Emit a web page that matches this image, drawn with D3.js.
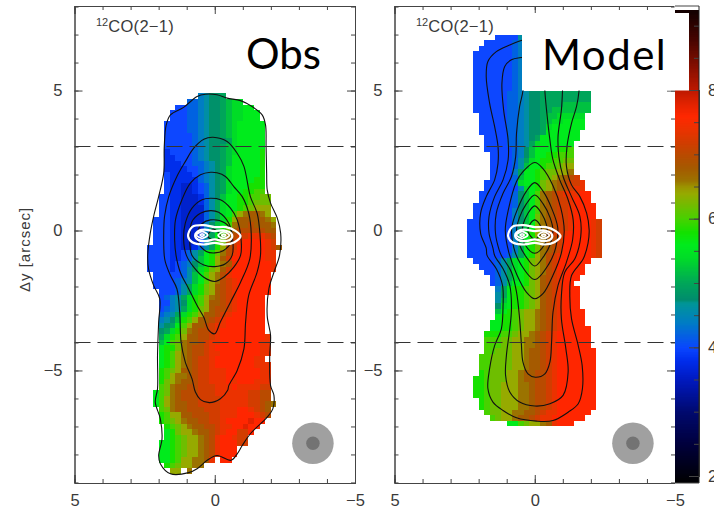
<!DOCTYPE html>
<html>
<head>
<meta charset="utf-8">
<script src="https://cdn.jsdelivr.net/npm/d3@7"></script>
<style>
  html, body { margin: 0; padding: 0; background: #fff; }
  svg { display: block; }
  .axis path, .axis line { stroke: #444; stroke-width: 1; }
  .axis text { font-family: "Liberation Sans", sans-serif; font-size: 16.5px; fill: #3a3a3a; }
</style>
</head>
<body>
<script>
// velocity level of each letter in the rows below: a = 3.6, b = 3.8 ... w = 8.0 km/s
const levelLetters = "abcdefghijklmnopqrstuvw";
const levelStart = 3.6, levelStep = 0.2;

// velocity map, observed. One string per row, from dy = 4.9 down, '.' = no data
const obsRows = [
  ".........efggh",
  ".......ddefgghijj",
  ".....ccddefgghijjkk",
  "....cccddefgghijjkkk",
  "....cccddefgghijjkkk",
  "...ccccddefgghijkkkkk",
  "...ccccddefgghijkkkkk",
  "...cccccdefgghijkkkkk",
  "...cccccdefggghjkkkkk",
  "...cccccdefgghijkkkkk",
  "...bccccdefgghijkkkkl",
  "...bbcccdefgghikkkkkl",
  "...bbbccddefghikkkkkl",
  "...bbbbccdefghjkkkkkl",
  "...cbbbbcdefghjkkkkkl",
  "...cbbbbbdefghjkkkkll",
  "...cbbaabcdfghjkkklll",
  "...cbbaabcdfghjkkllmm",
  "..ccbbaaabdfgikkllmmnn",
  "..ccbbaaabdfhjkkllmnnn",
  "..ccbbaaaadfhjkklmnooo",
  "..ccbbaaaadfhjkmopqqpo",
  ".cccbbaaaadfhjloqqqqqpo",
  ".cccbbaaaaegikmpqqrqqqp",
  ".cccbbaaaaegilnqrrrrrqq",
  ".cccbbaaabfhkmprsstttsr",
  ".cccbbaaacfhlnqstuuuuts",
  "ccccbbaabdfhlorsuuuuutsq",
  "ccccbbcdfhklnprtuuuuutt",
  "ccccbbcdfikloqsuuuuuutt",
  "ccccbcdegiklopqtuuuuuut",
  "ccccbcdfhjlnoqsuuuuuuut",
  ".cccccdfikmoprtuuuuuuu",
  ".ccccdefikmoprstuuuuuu",
  ".ccccdfhjlnoqrstuuuuuu",
  "..cccdfhjlnoqrstuuuuuu",
  "..cdefhjlmopqrstuuuuu",
  "..ccefgjlmoqqrstuuuuu",
  "..cdefhjlnoqrrstuuuuu",
  "..defhjlmoqqrstuuuuuu",
  "..efgilmoqqrstuuuuuuu",
  "..fghkmoqqrsttuuuuuuu",
  "..ghjlnpqrrstuuuuuuuu",
  "..hjlmoqqrrstuuuuuuuut",
  "..ikmnpqqrsttuuuuuuutt",
  "..kllnpqrrstuuuuuuuutt",
  "..klmopqrrsttuuuuuuutt",
  "..klmopqrsstuuuuuuutt",
  "..klmopqrsstuuuuuuuttt",
  "..lmnoqqrsstttuuuuuutt",
  "..lmoppqrsstttuuuuuutt",
  "..lnopqqrsstttutuuuttt",
  "..mnpqqrrssstttuttttss",
  ".kmnpqrrrsssttttttssrr",
  ".kmopqrrrsssstttttssrr",
  ".kmopqqrrsssstttttssrqp",
  "..mnpqqrrrssstttuutsrq",
  "..lmooqqrrrsstttuuutsr",
  "..lmnopqqrrsstuuuuvuu",
  "...lmnopqqrrsttuuvuu",
  "...klnoopqqrstuussu",
  "...klmnoopqrtuutss",
  "..kklmnoopqrtuuuss",
  "..kklmnoopqrtuuu",
  "..kklmnoopqrtuuu",
  "..kklmooppqt.uu",
  "...lmnoopp",
  "....oo.p"
];

// velocity map, model. One string per row, from dy = 7.0 down
const modelRows = [
  ".....ccccf",
  "...cccccde",
  "..ccccccde",
  ".cccccccde",
  ".cccccccde",
  ".cccccccde",
  ".cccccccde",
  ".cccccccde",
  ".cccccccde",
  ".cccccccde",
  ".ccccccddefgghhhhhhhhh",
  ".ccccccddefgghhhhhhhhh",
  ".ccccccddefgghhhhiiiii",
  ".ccccccddefgghhiiiiiii",
  "..cccccddefgghiijjjjj",
  "..cccccddefgghijjkkkk",
  "..cccccddefgghjkkkkkk",
  "..cccccddefgghkkkkkk",
  "...ccccddefghkkkkkkk",
  "...ccccddefhjkkkkkk",
  "...cccccdegikkkkllm",
  "....ccccdegikkllmmm",
  "....ccccdfhjkllmmnn",
  "....ccccdfikklmmnoo",
  "....ccccehkklmnnoop",
  "....ccccdikklmnopqrs",
  "...cccccdjkklnopqrsst",
  "...ccccccfjklnopqrstt",
  "..ccccccdgikmpqrstttuu",
  "..ccccccdgikmpqrsstuuu",
  ".cccccccdgikmpqrsstuuuu",
  ".cccccccegikmpqrsstuuuu",
  ".cccccccegiknpqrsstuuuu",
  "ccccccccegiknpqrsstuuuts",
  "ccccccccegikopqrsstuuuts",
  "ccccccccehkloprsstuuuuts",
  "ccccccccehklnpqrsuuuuuts",
  "ccccccccehklnpqrsuuuuuts",
  "ccccccccehklnpqrsuuuuuts",
  "cccccccdfhkloprstuuuuuts",
  ".ccccdfhjklnoprsuuuuuu",
  "..cccdfhjklnoprsuuuuu",
  "...ccdfhjklnoprstuuuu",
  "....cdfhjklnoqrstuuu",
  "....cdfikklnoqrstuu",
  ".....ehkllmnoqrstuuu",
  ".....fhkllmnoqrstuuu",
  ".....fikllmnoqrstuuu",
  ".....gjkllmnoqrstuuu",
  ".....iklmnoopqrstuuuu",
  ".....kllmnoopqrstuuuu",
  "....kkllmnoopqrstuuuu",
  "....kkllmnoopqrstuuuuu",
  "...lllmmnoopqrstuuuuuu",
  "...mmmnnooppqrstuuuuuu",
  "...mmmnnooppqrstuuuuuu",
  "...mmnnnoopqqrstuuuuuuu",
  "..mmnnnnoopqqrstuuuuuuu",
  "..mmnnnnoopqqrstuuuuuuu",
  "..mmnnnnoopqqrstuuuuuuu",
  "..lmnnnoopqqrrstuuuuuuu",
  ".llmnnnoopqqrrstuuuuuuu",
  ".llmnnoooppqrrstuuuuuuu",
  ".llmnnoooppqrrstuuuuuuu",
  ".llmnnoooppqrrstuuuuuuu",
  "..lmnnoooppqrrstuuuuuuu",
  "..lmnnoooppqrrstuuuuuuu",
  "...mnnooppqqrsttuuuuuu",
  "....mnoopqqrsttuuuuuu",
  ".......kkmnoopqtuuu"
];

// colour bar stops: velocity, colour
const colorVel = [1.9, 2.5, 3, 3.5, 3.8, 4, 4.4, 4.7, 4.75, 5, 5.4, 5.6, 5.8, 6, 6.2, 6.4, 6.5, 6.6, 6.8, 7, 7.2, 7.4, 7.6, 7.8, 8, 8.4, 8.8, 9.24];
const colorHex = ["#000000", "#00003c", "#000a6e", "#0019be", "#002deb", "#0a46ff", "#007dc3", "#009696", "#008c6e", "#00a55a", "#00dc28", "#00eb1e", "#14e100", "#46d200", "#6ebe00", "#96aa00", "#9b9600", "#9b7300", "#a55a00", "#b94b00", "#d23c00", "#eb3200", "#ff2800", "#e12300", "#be1900", "#820f00", "#460500", "#140000"];

// integrated intensity contours [dx, dy] in arcsec
const obsContours = [
  [[.63,4.79],[.33,4.87],[-.08,4.85],[-.44,4.73],[-.92,4.64],[-1.33,4.43],[-1.69,4.13],[-1.81,3.77],[-1.83,3],[-1.85,2.05],[-1.87,1.45],[-1.99,.98],[-2.23,.44],[-2.35,-.1],[-2.31,-.89],[-2.11,-1.49],[-1.93,-2.08],[-1.87,-3.04],[-1.99,-3.75],[-1.96,-4.46],[-1.99,-5.54],[-2.11,-5.89],[-2.07,-6.37],[-1.87,-6.67],[-1.27,-7.26],[-.98,-7.68],[-.8,-7.98],[-.58,-8.21],[-.08,-8.04],[.27,-8.21],[.63,-8.51],[.93,-8.65],[1.58,-8.69],[1.94,-8.33],[2,-8.04],[1.88,-7.44],[1.94,-6.73],[2.12,-6.13],[2.04,-5.65],[2.04,-4.46],[2,-3.27],[1.96,-2.44],[2.18,-1.96],[2.36,-1.37],[2.39,-.89],[2.3,-.1],[2.18,.5],[2,1.21],[1.82,2.05],[1.8,3],[1.73,3.77],[1.58,4.13],[1.11,4.4]],
  [[.06,3.33],[.39,3.26],[.75,2.94],[1.05,2.46],[1.35,1.93],[1.64,1.21],[1.79,.5],[1.82,-.21],[1.8,-.9],[1.76,-1.13],[1.58,-1.61],[1.35,-2.08],[1.25,-2.92],[1.2,-3.99],[1.05,-4.7],[.81,-5.3],[.69,-5.77],[.51,-6.04],[.19,-6.15],[-.2,-6.01],[-.46,-5.71],[-.5,-5.54],[-.8,-5],[-1.04,-4.23],[-1.1,-3.27],[-1.21,-2.32],[-1.51,-1.49],[-1.63,-.89],[-1.61,-.1],[-1.51,.62],[-1.27,1.21],[-1.04,2.29],[-.8,2.76],[-.44,3.18]],
  [[.15,2.08],[.51,1.99],[.87,1.69],[1.17,1.1],[1.4,.38],[1.43,-.33],[1.38,-.89],[1.23,-1.49],[.93,-2.08],[.63,-2.68],[.39,-3.1],[.21,-3.57],[0,-3.69],[-.2,-3.27],[-.56,-2.56],[-.92,-1.85],[-1.25,-1.01],[-1.3,-.1],[-1.21,.62],[-.98,1.21],[-.68,1.57],[-.38,1.93],[-.08,2.06]],
  [[.15,1.15],[.45,1.1],[.81,.8],[1.05,.26],[1.11,-.33],[1.01,-.89],[.75,-1.31],[.39,-1.67],[0,-1.82],[-.32,-1.67],[-.68,-1.31],[-.92,-.89],[-.94,-.33],[-.8,.38],[-.56,.8],[-.2,1.1]],
  [[.15,.71],[.51,.62],[.81,.32],[.89,-.21],[.81,-.89],[.39,-1.23],[0,-1.29],[-.38,-1.19],[-.62,-.89],[-.64,-.33],[-.5,.26],[-.14,.65]],
  [[.15,.38],[.45,.25],[.62,-.1],[.58,-.45],[.3,-.75],[0,-.8],[-.3,-.72],[-.58,-.42],[-.6,-.05],[-.35,.28]],
  [[.05,.05],[.25,-.2],[0,-.36],[-.2,-.2]]
];
const modelClosedContours = [
  [[0,2.43],[.42,2.1],[.65,1.75],[.95,.7],[1.05,0],[.92,-.8],[.63,-1.6],[.3,-2.2],[0,-2.44],[-.3,-2.25],[-.65,-1.6],[-.95,-.8],[-1.05,0],[-.93,.8],[-.65,1.6],[-.3,2.2]],
  [[0,1.71],[.3,1.4],[.6,.8],[.82,.1],[.75,-.6],[.5,-1.2],[0,-1.75],[-.5,-1.2],[-.75,-.6],[-.82,.1],[-.6,.8],[-.3,1.4]],
  [[0,1.27],[.3,.95],[.55,.45],[.65,0],[.55,-.5],[.3,-.95],[0,-1.27],[-.3,-.95],[-.55,-.5],[-.65,0],[-.55,.45],[-.3,.95]],
  [[0,.88],[.25,.6],[.42,.2],[.45,-.1],[.35,-.5],[0,-.81],[-.35,-.5],[-.45,-.1],[-.42,.2],[-.25,.6]],
  [[0,.38],[.25,.05],[.15,-.2],[0,-.32],[-.15,-.2],[-.25,.05]]
];
const modelOpenContours = [
  [[.2,6.85],[.48,6.79],[.89,6.63],[1.37,6.39],[1.67,6.04],[1.73,5.5],[1.61,4.55],[1.43,3.71],[1.31,3],[1.31,2.4],[1.43,1.81],[1.73,1.21],[1.93,.62],[1.93,-.1],[1.73,-.63],[1.7,-.89],[1.37,-1.37],[1.15,-1.96],[1.13,-2.68],[1.19,-3.51],[1.43,-4.11],[1.61,-4.94],[1.67,-5.65],[1.49,-6.13],[1.13,-6.43],[.65,-6.69],[-.06,-6.81],[-.65,-6.79],[-1.19,-6.49],[-1.55,-6.19],[-1.7,-5.65],[-1.69,-4.82],[-1.55,-4.11],[-1.31,-3.15],[-1.25,-2.32],[-1.31,-1.61],[-1.73,-1.01],[-1.9,-.45],[-1.94,.02],[-1.85,.62],[-1.61,1.21],[-1.31,1.63],[-1.13,2.29],[-1.15,3],[-1.31,3.83],[-1.49,4.43],[-1.58,5],[-1.6,5.6]],
  [[.2,6.2],[.48,6.18],[.83,6.1],[1.07,5.86],[1.17,5.26],[1.11,4.31],[.95,3.24],[.95,2.52],[1.13,1.81],[1.43,1.21],[1.63,.5],[1.63,-.1],[1.49,-.63],[1.43,-.89],[1.13,-1.37],[.89,-1.96],[.83,-2.8],[.89,-3.51],[1.01,-4.46],[1.04,-5.18],[.89,-5.77],[.54,-6.13],[0,-6.27],[-.54,-6.19],[-1.01,-5.89],[-1.19,-5.06],[-1.11,-4.23],[-.95,-3.15],[-.95,-2.32],[-1.07,-1.49],[-1.43,-1.01],[-1.64,-.21],[-1.61,.5],[-1.31,1.21],[-1.01,1.93],[-.86,2.64],[-.83,3.36],[-.95,4.31],[-.99,5],[-1,5.6]],
  [[.42,5.6],[.42,5],[.54,4.43],[.65,3.48],[.68,2.64],[.83,1.93],[1.13,1.33],[1.37,.62],[1.4,-.1],[1.27,-.69],[1.19,-.89],[.83,-1.49],[.65,-2.2],[.54,-3.15],[.48,-3.99],[.42,-4.7],[.24,-5.12],[-.02,-5.24],[-.36,-5.12],[-.54,-4.7],[-.6,-3.99],[-.65,-2.92],[-.83,-1.96],[-1.13,-1.13],[-1.35,-.33],[-1.37,.38],[-1.19,1.1],[-.89,1.81],[-.65,2.52],[-.54,3.24],[-.42,4.31],[-.36,5],[-.35,5.6]]
];
// white contours around the centre, same in both panels
const whiteContours = [
  [[.95,-.2],[.8,.13],[.4,.19],[0,.12],[-.4,.12],[-.75,-.02],[-.92,-.2],[-.7,-.42],[-.35,-.5],[0,-.44],[.4,-.5],[.8,-.42]],
  [[.7,-.17],[.55,0],[.35,.03],[0,-.02],[-.35,0],[-.6,-.12],[-.6,-.28],[-.35,-.38],[0,-.32],[.35,-.38],[.6,-.33]],
  [[.65,-.16],[.45,-.04],[.25,-.16],[.45,-.28]],
  [[-.12,-.17],[-.32,-.05],[-.52,-.17],[-.32,-.29]],
  [[.52,-.16],[.45,-.12],[.38,-.16],[.45,-.2]],
  [[-.25,-.17],[-.32,-.13],[-.39,-.17],[-.32,-.21]]
];

const dashedRows = [3, -4];          // dy of the dashed lines
const beamCentre = [-3.5, -7.6];     // beam position
const beamOuter = 0.74, beamInner = 0.24;
const xMajor = [5, 0, -5], yMajor = [5, 0, -5];
const xMinor = d3.range(-5, 6), yMinor = d3.range(-9, 9);
const barMajor = [2, 4, 6, 8], barMinor = d3.range(2, 9.5, 0.5);

const width = 714, height = 512;
const svg = d3.select("body").append("svg").attr("width", width).attr("height", height);

// slight softening of the map, the source figure is a scaled bitmap
svg.append("defs").append("filter").attr("id", "soft")
  .attr("x", "-5%").attr("y", "-5%").attr("width", "110%").attr("height", "110%")
  .append("feGaussianBlur").attr("stdDeviation", 0.6);

const top_ = 6, bottom = 483;
const y = d3.scaleLinear().domain([8.02, -9.02]).range([top_, bottom]);
const color = d3.scaleLinear().domain(colorVel).range(colorHex);

const curveClosed = d3.line().curve(d3.curveCatmullRomClosed.alpha(0.5));
const curveOpen = d3.line().curve(d3.curveCatmullRom.alpha(0.5));

function velocity(letter) {
  return levelStart + levelStep * levelLetters.indexOf(letter);
}

function drawPanel(left, right, rows, rowTop, closed, open) {
  const x = d3.scaleLinear().domain([5, -5]).range([left, right]);
  const g = svg.append("g");

  // velocity cells
  const cells = [];
  rows.forEach((row, r) => {
    row.split("").forEach((ch, c) => {
      if (ch !== ".") cells.push({ dx: 2.4 - 0.2 * c, dy: rowTop - 0.2 * r, v: velocity(ch) });
    });
  });
  g.append("g").attr("filter", "url(#soft)").selectAll("rect")
    .data(cells)
    .enter().append("rect")
    .attr("x", d => x(d.dx))
    .attr("y", d => y(d.dy))
    .attr("width", d => x(d.dx - 0.2) - x(d.dx))
    .attr("height", d => y(d.dy - 0.2) - y(d.dy))
    .attr("fill", d => color(d.v))
    .attr("shape-rendering", "crispEdges");

  const toPix = pts => pts.map(p => [x(p[0]), y(p[1])]);

  g.selectAll(".closed").data(closed).enter().append("path")
    .attr("class", "closed")
    .attr("d", d => curveClosed(toPix(d)))
    .attr("fill", "none").attr("stroke", "#111").attr("stroke-width", 1.1);
  g.selectAll(".open").data(open).enter().append("path")
    .attr("class", "open")
    .attr("d", d => curveOpen(toPix(d)))
    .attr("fill", "none").attr("stroke", "#111").attr("stroke-width", 1.1);
  g.selectAll(".white").data(whiteContours).enter().append("path")
    .attr("class", "white")
    .attr("d", d => curveClosed(toPix(d)))
    .attr("fill", "none").attr("stroke", "#fff").attr("stroke-width", (d, i) => i < 2 ? 2.2 : 1.8);

  // dashed lines
  g.selectAll(".dash").data(dashedRows).enter().append("line")
    .attr("x1", left).attr("x2", right)
    .attr("y1", d => y(d)).attr("y2", d => y(d))
    .attr("stroke", "#333").attr("stroke-width", 1.1)
    .attr("stroke-dasharray", "16,7");

  // beam
  g.append("circle").attr("cx", x(beamCentre[0])).attr("cy", y(beamCentre[1])).attr("r", x(-beamOuter) - x(0)).attr("fill", "#a0a0a0");
  g.append("circle").attr("cx", x(beamCentre[0])).attr("cy", y(beamCentre[1])).attr("r", x(-beamInner) - x(0)).attr("fill", "#737373");

  // axes: labelled ticks on left and bottom, plain on top and right
  const ax = (axis, tx, ty) => g.append("g").attr("class", "axis").attr("transform", `translate(${tx},${ty})`).call(axis);
  const fmt = d => d < 0 ? "\u2212" + (-d) : "" + d;
  ax(d3.axisLeft(y).tickValues(yMinor).tickSize(-4).tickFormat(""), left, 0);
  ax(d3.axisLeft(y).tickValues(yMajor).tickSize(-8).tickPadding(12).tickFormat(fmt), left, 0);
  ax(d3.axisRight(y).tickValues(yMinor).tickSize(-4).tickFormat(""), right, 0);
  ax(d3.axisRight(y).tickValues(yMajor).tickSize(-8).tickFormat(""), right, 0);
  ax(d3.axisBottom(x).tickValues(xMinor).tickSize(-4).tickFormat(""), 0, bottom);
  ax(d3.axisBottom(x).tickValues(xMajor).tickSize(-8).tickPadding(11).tickFormat(fmt), 0, bottom);
  ax(d3.axisTop(x).tickValues(xMinor).tickSize(-4).tickFormat(""), 0, top_);
  ax(d3.axisTop(x).tickValues(xMajor).tickSize(-8).tickFormat(""), 0, top_);

  // line label
  const lab = g.append("text").attr("x", left + 21.5).attr("y", 32)
    .attr("font-family", "'Liberation Sans', sans-serif").attr("font-size", 16.5).attr("fill", "#3a3a3a");
  lab.append("tspan").attr("font-size", 11).attr("dy", -6).text("12");
  lab.append("tspan").attr("dy", 6).attr("letter-spacing", 0.3).text("CO(2\u22121)");
}

drawPanel(74.5, 355, obsRows, 4.9, obsContours, []);
drawPanel(394.5, 675, modelRows, 7.0, modelClosedContours, modelOpenContours);

// colour bar
const barLeft = 675, barRight = 699, barTop = 10;
const barY = d3.scaleLinear().domain([8, 2]).range([90, 476]);
const barVel = d3.range(1.89, 9.24, 0.02);
svg.append("g").selectAll("rect")
  .data(barVel)
  .enter().append("rect")
  .attr("x", barLeft).attr("width", barRight - barLeft)
  .attr("y", d => barY(d) - 1.5).attr("height", 3)
  .attr("fill", d => color(d));
svg.append("rect").attr("x", barLeft - 0.5).attr("y", top_).attr("width", barRight - barLeft + 0.5).attr("height", barTop - top_).attr("fill", "#fff");
svg.append("rect").attr("x", barLeft).attr("y", bottom).attr("width", barRight - barLeft).attr("height", 4).attr("fill", "#fff");

const barAxis = (axis) => svg.append("g").attr("class", "axis").attr("transform", `translate(${barRight},0)`).call(axis);
barAxis(d3.axisRight(barY).tickValues(barMinor).tickSize(-5).tickFormat(""));
barAxis(d3.axisRight(barY).tickValues(barMajor).tickSize(-10).tickPadding(9).tickFormat(d => d));
svg.append("line").attr("x1", barLeft).attr("x2", barRight).attr("y1", top_).attr("y2", top_).attr("stroke", "#444");
svg.append("line").attr("x1", barRight).attr("x2", barRight).attr("y1", top_).attr("y2", bottom).attr("stroke", "#222");
svg.append("line").attr("x1", barLeft).attr("x2", barRight).attr("y1", bottom).attr("y2", bottom).attr("stroke", "#444");

// white box behind the Model title, it hides part of the map and the bar
svg.append("rect").attr("x", 522).attr("y", 13).attr("width", 167).attr("height", 77.5).attr("fill", "#fff");

svg.append("text").attr("x", 246).attr("y", 69)
  .attr("font-family", "Lato, sans-serif").attr("font-size", 42).attr("fill", "#000").text("Obs");
svg.append("text").attr("x", 542).attr("y", 70)
  .attr("font-family", "Lato, sans-serif").attr("font-size", 42).attr("letter-spacing", 1.5).attr("fill", "#000").text("Model");

// y label
svg.append("text")
  .attr("transform", "translate(30,292) rotate(-90)")
  .attr("font-family", "'Liberation Sans', sans-serif").attr("font-size", 15).attr("letter-spacing", 1).attr("fill", "#3a3a3a")
  .text("\u0394y [arcsec]");
</script>
</body>
</html>
